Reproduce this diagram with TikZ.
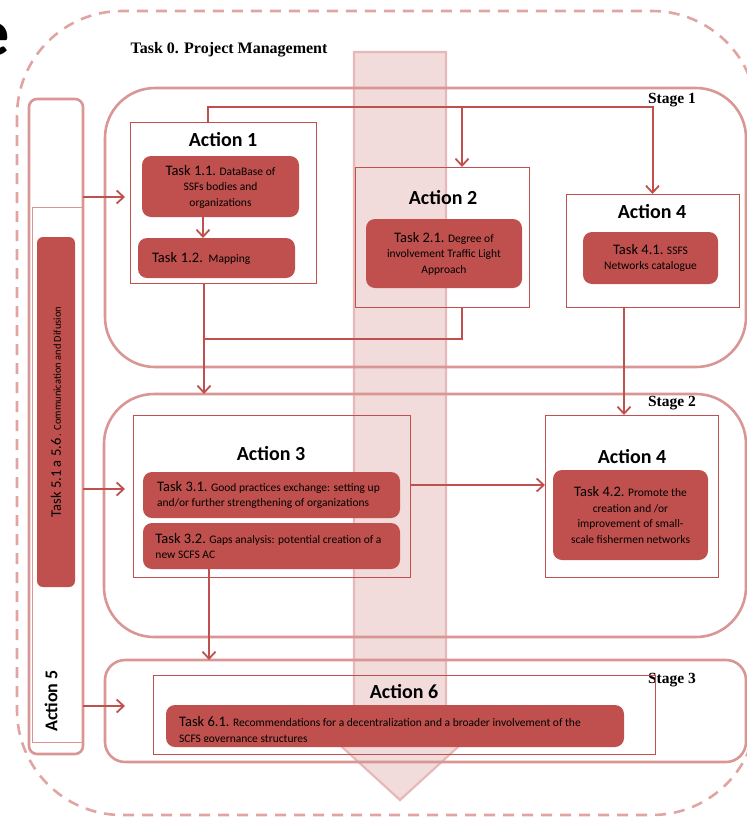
\documentclass[tikz,border=0pt]{standalone}
\usepackage{fontspec}
\setmainfont{Carlito}
\newfontfamily\serifb{Liberation Serif}
\usetikzlibrary{arrows.meta}
\definecolor{redC}{HTML}{C0504D}
\definecolor{stageC}{HTML}{D99694}
\definecolor{dashC}{HTML}{E0A4A2}
\definecolor{arrFill}{HTML}{F2DCDB}
\definecolor{arrDraw}{HTML}{E6B9B8}
\newcommand{\mkbox}[7]{\node[#1, minimum width={#5-#3}, minimum height={#6-#4}] (#2) at ({(#3+#5)/2},{(#4+#6)/2}) {#7};}
\newcommand{\tk}[2]{{\fontsize{14.5}{15.5}\selectfont #1} #2}
\begin{document}
\begin{tikzpicture}[x=1pt,y=-1pt,
  stagebox/.style={draw=stageC,line width=2.6,rounded corners=#1,inner sep=0,outer sep=0},
  stagebox/.default=50,
  actbox/.style={draw=redC,line width=1,inner sep=0,outer sep=0},
  taskbox/.style={fill=redC,rounded corners=9,inner sep=0,outer sep=0,align=center,font=\fontsize{11.5}{15.5}\selectfont},
  acttitle/.style={font=\fontsize{20}{24}\selectfont\bfseries,inner sep=0},
  stagelbl/.style={font=\serifb\fontsize{15.5}{18}\selectfont\bfseries,inner sep=0},
  conn/.style={draw=redC,line width=2,-{Straight Barb[length=7pt,width=13pt,line width=1.8pt]}},
  link/.style={draw=redC,line width=2}]
\useasboundingbox (0,0) rectangle (747,817);
\clip (0,0) rectangle (747,817);
% title fragment
\node[anchor=base east,inner sep=0,font=\fontsize{66}{66}\selectfont\bfseries] (ttl) at (10,55) {e};
% outer dashed frame
\draw[dashC,line width=2.6,dash pattern=on 11pt off 8pt,rounded corners=105] (17,11) rectangle (757,815);
\node[stagelbl,font=\serifb\fontsize{16}{18}\selectfont\bfseries] (t0) at (229,50) {Task 0. Project Management};
% big background arrow
\draw[arrDraw,fill=arrFill,line width=2.2] (354,52) -- (446,52) -- (446,735) -- (471,735) -- (400,800) -- (329,735) -- (354,735) -- cycle;
% stages
\mkbox{stagebox}{s1}{105}{88}{746}{367}{}
\mkbox{stagebox}{s2}{104}{394}{746}{637}{}
\mkbox{stagebox=20}{s3}{105}{660}{746}{762}{}
\node[stagelbl] (s1l) at (672,100) {Stage 1};
\node[stagelbl] (s2l) at (672,403) {Stage 2};
\node[stagelbl] (s3l) at (672,680) {Stage 3};
% Action 5 column
\mkbox{stagebox=8}{a5o}{29}{99}{83}{754}{}
\mkbox{draw=stageC,line width=1,inner sep=0,outer sep=0}{a5i}{32}{207}{82}{742}{}
\mkbox{taskbox,rounded corners=6}{t5}{37}{237}{75}{587}{}
\node[rotate=90,inner sep=0,font=\fontsize{10.5}{12}\selectfont] (t5txt) at (56,412) {{\fontsize{14.5}{15}\selectfont Task 5.1 a 5.6}\ . Communication and Difusion};
\node[rotate=90,inner sep=0,font=\fontsize{18}{20}\selectfont\bfseries] (a5l) at (51,701) {Action 5};
% Action 1
\mkbox{actbox}{a1}{130}{122}{316}{283}{}
\node[acttitle] (a1l) at (223,140) {Action 1};
\mkbox{taskbox}{t11}{142}{156}{299}{217}{\tk{Task 1.1.}{DataBase of}\\SSFs bodies and\\organizations}
\mkbox{taskbox,align=left,text width=129}{t12}{138}{238}{295}{278}{\tk{Task 1.2.}{Mapping}}
% Action 2
\mkbox{actbox}{a2}{355}{167}{529}{307}{}
\node[acttitle] (a2l) at (443,198) {Action 2};
\mkbox{taskbox}{t21}{366}{219}{522}{288}{\tk{Task 2.1.}{Degree of}\\involvement Traffic Light\\Approach}
% Action 4 (stage 1)
\mkbox{actbox}{a4a}{566}{194}{739}{307}{}
\node[acttitle] (a4al) at (652,212) {Action 4};
\mkbox{taskbox}{t41}{583}{232}{718}{284}{\tk{Task 4.1.}{SSFS}\\Networks catalogue}
% Action 3
\mkbox{actbox}{a3}{133}{415}{410}{577}{}
\node[acttitle] (a3l) at (271,454) {Action 3};
\mkbox{taskbox,align=left}{t31}{143}{472}{400}{518}{\tk{Task 3.1.}{Good practices exchange: setting up}\hspace*{6pt}\\and/or further strengthening of organizations}
\mkbox{taskbox,align=left}{t32}{143}{523}{400}{569}{\tk{Task 3.2.}{Gaps analysis: potential creation of a}\hspace*{6pt}\\new SCFS AC}
% Action 4 (stage 2)
\mkbox{actbox}{a4b}{545}{415}{718}{577}{}
\node[acttitle] (a4bl) at (632,457) {Action 4};
\mkbox{taskbox}{t42}{553}{470}{708}{560}{\tk{Task 4.2.}{Promote the}\\creation and /or\\improvement of small-\\scale fishermen networks}
% Action 6
\mkbox{actbox}{a6}{153}{675}{655}{754}{}
\node[acttitle] (a6l) at (404,692) {Action 6};
\mkbox{taskbox}{t61}{166}{705}{624}{747}{}
\begin{scope}
\clip (166,705) rectangle (624,741);
\node[anchor=north west,inner sep=0,align=left,font=\fontsize{11.5}{16}\selectfont] (t61txt) at (179,716) {\tk{Task 6.1.}{Recommendations for a decentralization and a broader involvement of the}\\SCFS governance structures};
\end{scope}
% connectors
\draw[conn,shorten >=5pt] (a5o.east |- 0,197) -- (a1.west |- 0,197);
\draw[conn,shorten >=8pt] (a5o.east |- 0,489) -- (a3.west |- 0,489);
\draw[conn,shorten >=28pt] (a5o.east |- 0,706) -- (a6.west |- 0,706);
\draw[conn] ([xshift=-17.5]t11.south) -- ([xshift=-17.5]t11.south |- t12.north);
\coordinate (j2) at (462,107);
\draw[conn] ([xshift=-15]a1.north) -- ([xshift=-15]a1.north |- j2) -| (a4a.north);
\draw[conn] (j2) -- (j2 |- a2.north);
\draw[link] ([xshift=20]a2.south) |- ([xshift=-19]a1.south |- 0,339);
\draw[conn] ([xshift=-19]a1.south) -- ([xshift=-19]a1.south |- s2.north);
\draw[conn] ([xshift=-28.5]a4a.south) -- ([xshift=-28.5]a4a.south |- a4b.north);
\draw[conn] (a3.east |- 0,485) -- (a4b.west |- 0,485);
\draw[conn] (t32.south -| 209,0) -- (209,0 |- s3.north);
\end{tikzpicture}
\end{document}
